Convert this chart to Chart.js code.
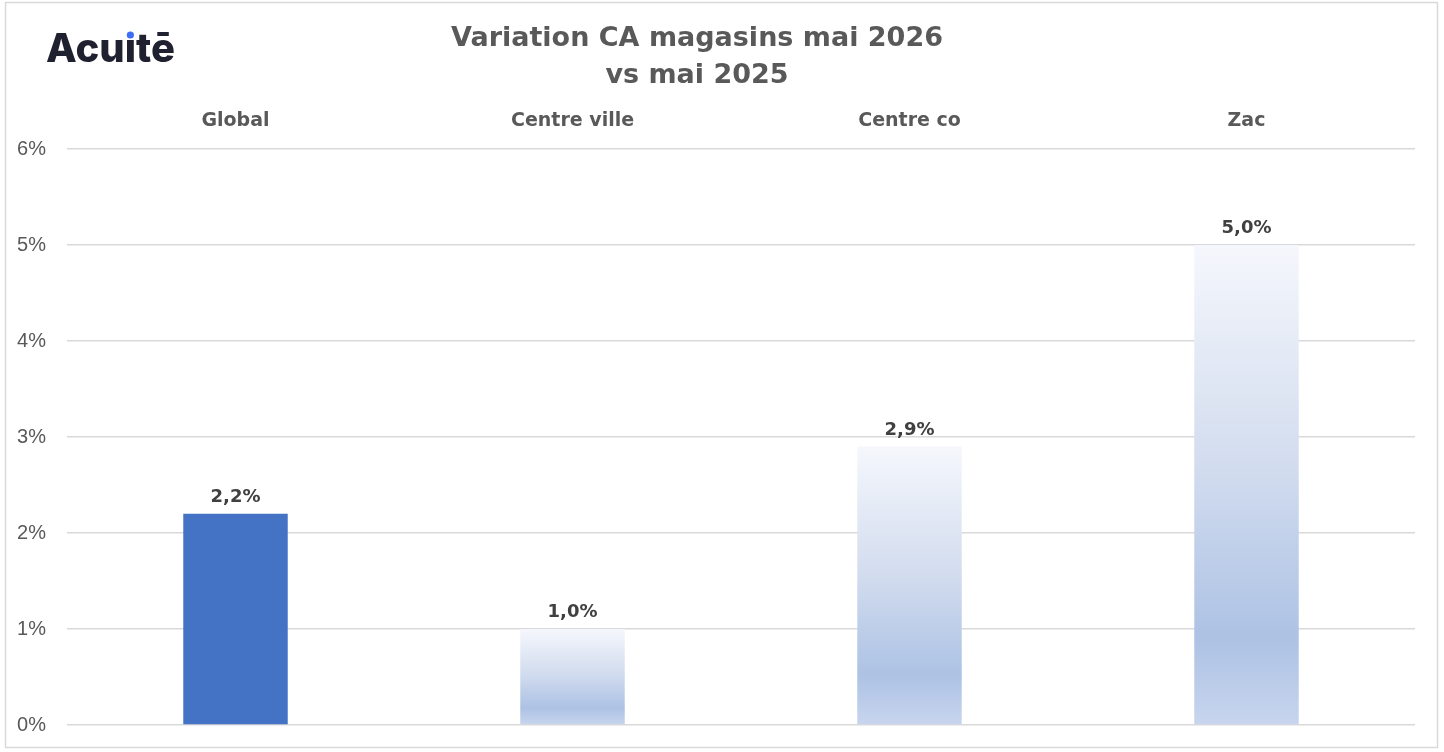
<!DOCTYPE html>
<html lang="fr">
<head>
<meta charset="utf-8">
<title>Variation CA magasins mai 2026 vs mai 2025</title>
<script src="https://cdn.jsdelivr.net/npm/chart.js@4/dist/chart.umd.min.js"></script>
<style>
  html, body { margin: 0; padding: 0; background: #ffffff; }
  #wrap { position: relative; width: 1444px; height: 752px; }
</style>
</head>
<body>
<div id="wrap"><canvas id="chart" width="1444" height="752"></canvas></div>
<script>
// Données
const categories = ['Global', 'Centre ville', 'Centre co', 'Zac'];
const variations = [2.2, 1.0, 2.9, 5.0];
const yTicks = [0, 1, 2, 3, 4, 5, 6];
const titleLines = ['Variation CA magasins mai 2026', 'vs mai 2025'];

const TEXT_GREY = '#595959';
const GRID_GREY = '#d9d9d9';

// Dégradé vertical propre à chaque barre (sauf Global, en plein)
function barFill(context) {
    if (context.dataIndex === 0) return '#4472c4';
    const chart = context.chart;
    const area = chart.chartArea;
    if (!area) return '#c8d5ec';
    const y = chart.scales.y;
    const top = y.getPixelForValue(context.raw);
    const base = y.getPixelForValue(0);
    const g = chart.ctx.createLinearGradient(0, top, 0, base);
    g.addColorStop(0, '#f5f7fc');
    g.addColorStop(0.45, '#d3ddef');
    g.addColorStop(0.82, '#adc2e4');
    g.addColorStop(1, '#c8d5ee');
    return g;
}

// Cadre, logo et titre
const decorPlugin = {
    id: 'decor',
    beforeDraw(chart) {
        const ctx = chart.ctx;
        ctx.save();
        ctx.fillStyle = '#ffffff';
        ctx.fillRect(0, 0, chart.width, chart.height);
        ctx.strokeStyle = GRID_GREY;
        ctx.lineWidth = 1.5;
        ctx.strokeRect(5.5, 2.5, 1432, 745);
        ctx.restore();
    },
    afterDraw(chart) {
        const ctx = chart.ctx;
        ctx.save();
        // Logo "Acuitē"
        ctx.font = '800 40px Inter';
        ctx.fillStyle = '#1f2130';
        ctx.textBaseline = 'alphabetic';
        ctx.textAlign = 'left';
        let x = 46;
        const base = 62;
        const parts = ['Acu', 'ı', 'tē'];
        ctx.fillText(parts[0], x, base);
        x += ctx.measureText(parts[0]).width;
        const iw = ctx.measureText(parts[1]).width;
        ctx.fillText(parts[1], x, base);
        ctx.fillStyle = '#3d6ef5';
        ctx.beginPath();
        ctx.arc(x + iw / 2, base - 27, 3.6, 0, Math.PI * 2);
        ctx.fill();
        x += iw;
        ctx.fillStyle = '#1f2130';
        ctx.fillText(parts[2], x, base);

        // Titre
        ctx.font = 'bold 27px "DejaVu Sans"';
        ctx.fillStyle = TEXT_GREY;
        ctx.textAlign = 'center';
        ctx.textBaseline = 'middle';
        ctx.fillText(titleLines[0], 697, 39);
        ctx.fillText(titleLines[1], 697, 76);

        // Étiquettes de valeurs
        ctx.font = 'bold 18px "DejaVu Sans"';
        ctx.fillStyle = '#404040';
        ctx.textBaseline = 'alphabetic';
        const meta = chart.getDatasetMeta(0);
        meta.data.forEach((bar, i) => {
            const label = variations[i].toFixed(1).replace('.', ',') + '%';
            ctx.fillText(label, bar.x, bar.y - 12);
        });
        ctx.restore();
    }
};

new Chart(document.getElementById('chart'), {
    type: 'bar',
    data: {
        labels: categories,
        datasets: [{
            data: variations,
            backgroundColor: barFill,
            borderWidth: 0,
            categoryPercentage: 1,
            barPercentage: 0.31
        }]
    },
    options: {
        responsive: false,
        animation: false,
        devicePixelRatio: 1,
        layout: { padding: { left: 0, right: 29, top: 95, bottom: 27 } },
        plugins: {
            legend: { display: false },
            tooltip: { enabled: false }
        },
        scales: {
            x: {
                position: 'top',
                grid: { display: false, drawTicks: false },
                border: { display: false },
                ticks: {
                    color: TEXT_GREY,
                    font: { family: 'DejaVu Sans', size: 19, weight: 'bold' },
                    padding: 17
                },
                afterFit(scale) { scale.height = 54; }
            },
            y: {
                min: 0,
                max: 6,
                afterBuildTicks(scale) {
                    scale.ticks = yTicks.map(v => ({ value: v }));
                },
                grid: { color: GRID_GREY, lineWidth: 1.5, drawTicks: false },
                border: { display: false },
                ticks: {
                    color: TEXT_GREY,
                    font: { family: 'Liberation Sans', size: 20 },
                    padding: 21,
                    callback: v => v + '%'
                },
                afterFit(scale) {
                    scale.width = 67;
                    scale.paddingTop = 0;
                    scale.paddingBottom = 0;
                }
            }
        }
    },
    plugins: [decorPlugin]
});
</script>
</body>
</html>
